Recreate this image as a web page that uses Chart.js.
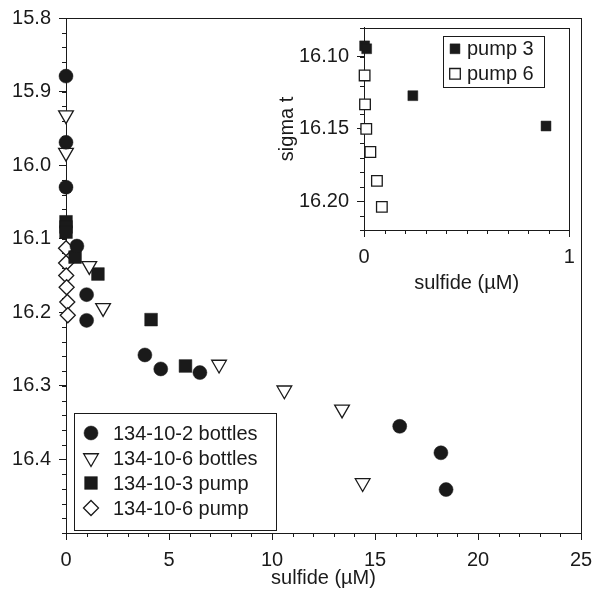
<!DOCTYPE html>
<html>
<head>
<meta charset="utf-8">
<script src="https://cdn.jsdelivr.net/npm/chart.js@4.4.1/dist/chart.umd.min.js"></script>
<style>
html, body { margin: 0; padding: 0; background: #fff; }
#wrap { position: relative; width: 594px; height: 603px; }
#main { position: absolute; left: 0; top: 0; }
#inset { position: absolute; left: 272px; top: 19px; }
</style>
</head>
<body>
<div id="wrap">
  <canvas id="main" width="594" height="603"></canvas>
  <canvas id="inset" width="306" height="290"></canvas>
</div>
<script>
// main panel: sigma t against sulfide (uM)
const bottles2X = [0, 0, 0, 0.53, 1.0, 1.0, 3.83, 4.6, 6.5, 16.2, 18.2, 18.45];
const bottles2Y = [15.879, 15.969, 16.030, 16.110, 16.176, 16.211, 16.258, 16.277, 16.282, 16.355, 16.391, 16.441];
const bottles6X = [0, 0, 1.13, 1.8, 7.43, 10.6, 13.4, 14.4];
const bottles6Y = [15.932, 15.983, 16.137, 16.194, 16.271, 16.306, 16.332, 16.432];
const pump3X = [0, 0, 0, 0.44, 1.55, 4.13, 5.8];
const pump3Y = [16.077, 16.084, 16.091, 16.125, 16.148, 16.210, 16.273];
const pump6X = [0.003, 0.005, 0.011, 0.031, 0.063, 0.087];
const pump6Y = [16.113, 16.133, 16.150, 16.166, 16.186, 16.204];

// inset: pump casts near zero sulfide
const insetPump3X = [0.003, 0.013, 0.238, 0.887];
const insetPump3Y = [16.0925, 16.0945, 16.127, 16.148];

const mainXTicks = [0, 5, 10, 15, 20, 25];
const mainYTicks = [15.8, 15.9, 16.0, 16.1, 16.2, 16.3, 16.4];
const insetXTicks = [0, 1];
const insetYTicks = [16.10, 16.15, 16.20];

const INK = '#1a1a1a';
const FONT = "'Liberation Sans', Arial, Helvetica, sans-serif";

Chart.defaults.font.family = FONT;
Chart.defaults.font.size = 20;
Chart.defaults.color = INK;
Chart.defaults.animation = false;

function pts(xs, ys) {
    return xs.map((x, i) => ({ x, y: ys[i] }));
}

function series(label, xs, ys, style, radius, filled, rotation) {
    return {
        label,
        data: pts(xs, ys),
        pointStyle: style,
        pointRadius: radius,
        pointHoverRadius: radius,
        pointRotation: rotation || 0,
        pointBackgroundColor: filled ? INK : '#fff',
        pointBorderColor: INK,
        pointBorderWidth: filled ? 0.5 : 1.3,
        showLine: false,
        clip: false
    };
}

// box round the plot area plus small ticks between the labelled ones
const frame = {
    id: 'frame',
    beforeDatasetsDraw(chart, args, o) {
        const { ctx, chartArea: a, scales } = chart;
        ctx.save();
        ctx.strokeStyle = INK;
        ctx.lineWidth = 1;
        ctx.strokeRect(Math.round(a.left) + 0.5, Math.round(a.top) + 0.5,
            Math.round(a.right - a.left), Math.round(a.bottom - a.top));
        ctx.beginPath();
        const xs = scales.x, ys = scales.y;
        const nx = Math.round((xs.max - xs.min) / o.xStep);
        for (let i = 0; i <= nx; i++) {
            const px = Math.round(xs.getPixelForValue(xs.min + i * o.xStep)) + 0.5;
            ctx.moveTo(px, a.bottom);
            ctx.lineTo(px, a.bottom + o.len);
        }
        const ny = Math.round((ys.max - ys.min) / o.yStep);
        for (let i = 0; i <= ny; i++) {
            const py = Math.round(ys.getPixelForValue(ys.min + i * o.yStep)) + 0.5;
            ctx.moveTo(a.left, py);
            ctx.lineTo(a.left - o.len, py);
        }
        ctx.stroke();
        ctx.restore();
    }
};

// legend drawn inside the plot, with a white box
const boxLegend = {
    id: 'boxLegend',
    afterDraw(chart, args, o) {
        const { ctx, chartArea: a } = chart;
        const x = a.left + o.left;
        const y = o.bottom != null ? a.bottom - o.bottom - o.height : a.top + o.top;
        ctx.save();
        ctx.fillStyle = '#fff';
        ctx.fillRect(x, y, o.width, o.height);
        ctx.strokeStyle = INK;
        ctx.lineWidth = 1;
        ctx.strokeRect(Math.round(x) + 0.5, Math.round(y) + 0.5, o.width, o.height);
        ctx.font = o.fontSize + 'px ' + FONT;
        ctx.textBaseline = 'middle';
        ctx.textAlign = 'left';
        chart.data.datasets.forEach((ds, i) => {
            const cy = y + o.firstRow + i * o.rowGap;
            ctx.fillStyle = ds.pointBackgroundColor;
            ctx.strokeStyle = ds.pointBorderColor;
            ctx.lineWidth = ds.pointBorderWidth;
            Chart.helpers.drawPoint(ctx, {
                pointStyle: ds.pointStyle,
                radius: o.radius || ds.pointRadius,
                rotation: ds.pointRotation,
                borderWidth: ds.pointBorderWidth
            }, x + o.symbolX, cy);
            ctx.fillStyle = INK;
            ctx.fillText(ds.label, x + o.textX, cy + 1);
        });
        ctx.restore();
    }
};

// fixed axis box sizes, no extra room for overhanging end labels
function fitTo(prop, size) {
    return s => {
        s[prop] = size;
        s.paddingLeft = 0; s.paddingRight = 0;
        s.paddingTop = 0; s.paddingBottom = 0;
    };
}

function axis(min, max, ticks, fmt, fit, extra) {
    return Object.assign({
        type: 'linear',
        min, max,
        afterBuildTicks: s => { s.ticks = ticks.map(v => ({ value: v })); },
        afterFit: fit,
        ticks: { callback: v => fmt(v), color: INK, padding: 8, font: { size: 20 } },
        grid: { drawOnChartArea: false, tickLength: 7, color: INK, tickColor: INK },
        border: { display: true, color: INK, width: 1 }
    }, extra);
}

new Chart(document.getElementById('main'), {
    type: 'scatter',
    data: {
        datasets: [
            series('134-10-2 bottles', bottles2X, bottles2Y, 'circle', 7, true),
            series('134-10-6 bottles', bottles6X, bottles6Y, 'triangle', 8.5, false, 180),
            series('134-10-3 pump', pump3X, pump3Y, 'rect', 9, true),
            series('134-10-6 pump', pump6X, pump6Y, 'rectRot', 7.5, false)
        ]
    },
    options: {
        responsive: false,
        events: [],
        layout: { padding: { top: 18, right: 13, left: 0, bottom: 0 } },
        plugins: {
            legend: { display: false },
            tooltip: { enabled: false },
            frame: { xStep: 1, yStep: 0.02, len: 4 },
            boxLegend: { left: 8, bottom: 3, width: 202, height: 117, firstRow: 20, rowGap: 25,
                symbolX: 17, textX: 39, fontSize: 20 }
        },
        scales: {
            x: axis(0, 25, mainXTicks, v => String(v), fitTo('height', 70), {
                title: { display: true, text: 'sulfide (\u00b5M)', color: INK, font: { size: 20 },
                    padding: { top: 0, bottom: 13 } }
            }),
            y: axis(15.8, 16.5, mainYTicks, v => v.toFixed(1), fitTo('width', 66), { reverse: true })
        }
    },
    plugins: [frame, boxLegend]
});

new Chart(document.getElementById('inset'), {
    type: 'scatter',
    data: {
        datasets: [
            series('pump 3', insetPump3X, insetPump3Y, 'rect', 7, true),
            series('pump 6', pump6X, pump6Y, 'rect', 7.5, false)
        ]
    },
    options: {
        responsive: false,
        events: [],
        layout: { padding: { top: 5, right: 8, left: 0, bottom: 0 } },
        plugins: {
            legend: { display: false },
            tooltip: { enabled: false },
            frame: { xStep: 0.1, yStep: 0.01, len: 4 },
            boxLegend: { left: 79, top: 8, width: 101, height: 51, firstRow: 13, rowGap: 25,
                symbolX: 12, textX: 24, fontSize: 20 }
        },
        scales: {
            x: axis(0, 1, insetXTicks, v => String(v), fitTo('height', 79), {
                title: { display: true, text: 'sulfide (\u00b5M)', color: INK, font: { size: 20 },
                    padding: { top: 0, bottom: 14 } }
            }),
            y: axis(16.08, 16.22, insetYTicks, v => v.toFixed(2), fitTo('width', 92), {
                reverse: true,
                title: { display: true, text: 'sigma t', color: INK, font: { size: 20 },
                    padding: { top: 3, bottom: 0 } }
            })
        }
    },
    plugins: [frame, boxLegend]
});
</script>
</body>
</html>
